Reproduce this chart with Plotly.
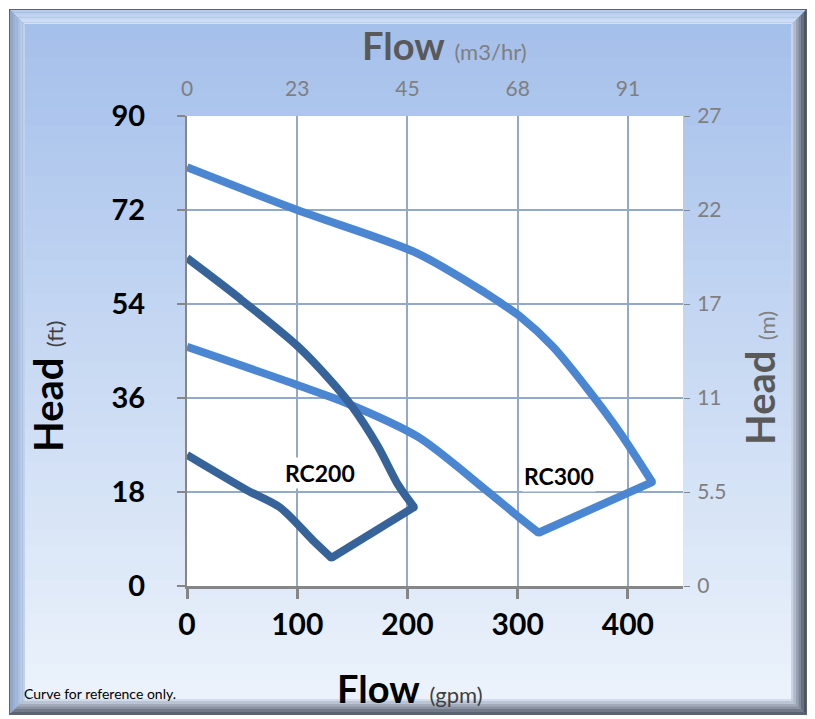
import plotly.graph_objects as go

# ---------------- data ----------------
gpm_ticks = [0, 100, 200, 300, 400]
m3hr_labels = ["0", "23", "45", "68", "91"]
ft_ticks = [0, 18, 36, 54, 72, 90]
m_labels = ["0", "5.5", "11", "17", "22", "27"]

# RC200: upper curve and lower curve
rc200_upper_gpm = [0, 47, 100, 130, 150, 173, 192, 206]
rc200_upper_ft = [62.8, 55.2, 46.0, 39.4, 34.3, 26.8, 19.2, 15.1]
rc200_lower_gpm = [131, 114, 84, 54, 0]
rc200_lower_ft = [5.4, 8.8, 15.1, 18.4, 25.1]

# RC300: upper curve and lower curve
rc300_upper_gpm = [0, 100, 208, 271, 286, 301, 332, 362, 393, 422]
rc300_upper_ft = [80.2, 72, 63.8, 56.1, 54, 51.8, 45.8, 38.1, 29.3, 19.9]
rc300_lower_gpm = [319, 301, 271, 210, 145, 100, 0]
rc300_lower_ft = [10.2, 13.2, 18.4, 28.5, 35, 38.5, 45.8]

# ---------------- geometry helpers (page pixel coords) ----------------
PAGE_W, PAGE_H = 815, 719
OFF = 8  # default body margin of the html page
W, H = PAGE_W - OFF, PAGE_H - OFF
PL, PR, PT, PB = 187, 683, 116, 586
FONT = "Lato"


def px(x):
    return (x - PL) / (PR - PL)


def py(y):
    return (PB - y) / (PB - PT)


def hexmix(c1, c2, t):
    a = [int(c1[i:i + 2], 16) for i in (1, 3, 5)]
    b = [int(c2[i:i + 2], 16) for i in (1, 3, 5)]
    return "#%02x%02x%02x" % tuple(round(a[k] + (b[k] - a[k]) * t) for k in range(3))


def quad(p):
    return "M " + " L ".join("%f %f" % (px(a), py(b)) for a, b in p) + " Z"


shapes = []
X0, Y0, X1, Y1 = 10, 10, 806, 714
BV = 15
shapes.append(dict(type="rect", xref="paper", yref="paper", layer="below",
                   x0=px(X0), x1=px(X1), y0=py(Y1), y1=py(Y0),
                   fillcolor="#8a96aa", line=dict(color="#5c6470", width=2)))
nb = 6
for i in range(nb):
    o = BV * i / nb
    inn = BV * (i + 1) / nb
    t = i / (nb - 1)
    shapes.append(dict(type="path", xref="paper", yref="paper", layer="below",
                       path=quad([(X0 + o, Y0 + o), (X1 - o, Y0 + o), (X1 - inn, Y0 + inn), (X0 + inn, Y0 + inn)]),
                       fillcolor=hexmix("#b4cbee", "#d3e2f8", t), line=dict(width=0)))
    shapes.append(dict(type="path", xref="paper", yref="paper", layer="below",
                       path=quad([(X0 + o, Y0 + o), (X0 + inn, Y0 + inn), (X0 + inn, Y1 - inn), (X0 + o, Y1 - o)]),
                       fillcolor=hexmix("#8fa6cc", "#bfd2ef", t), line=dict(width=0)))
    shapes.append(dict(type="path", xref="paper", yref="paper", layer="below",
                       path=quad([(X1 - o, Y0 + o), (X1 - o, Y1 - o), (X1 - inn, Y1 - inn), (X1 - inn, Y0 + inn)]),
                       fillcolor=hexmix("#4c5462", "#c9d4e6", t), line=dict(width=0)))
    shapes.append(dict(type="path", xref="paper", yref="paper", layer="below",
                       path=quad([(X0 + o, Y1 - o), (X0 + inn, Y1 - inn), (X1 - inn, Y1 - inn), (X1 - o, Y1 - o)]),
                       fillcolor=hexmix("#5a6272", "#d3dcea", t), line=dict(width=0)))

nband = 40
top_y, bot_y = Y0 + BV, Y1 - BV
for i in range(nband):
    ya = top_y + (bot_y - top_y) * i / nband
    yb = top_y + (bot_y - top_y) * (i + 1) / nband
    c = hexmix("#a5c0eb", "#ebf2fb", i / (nband - 1))
    shapes.append(dict(type="rect", xref="paper", yref="paper", layer="below",
                       x0=px(X0 + BV), x1=px(X1 - BV), y0=py(yb), y1=py(ya) + 0.002,
                       fillcolor=c, line=dict(width=0)))
shapes.append(dict(type="rect", xref="paper", yref="paper", layer="below",
                   x0=0, x1=1, y0=0, y1=1, fillcolor="white", line=dict(width=0)))

# ---------------- figure ----------------
fig = go.Figure()


def add_pump(up_x, up_y, lo_x, lo_y, color):
    common = dict(mode="lines", showlegend=False, hoverinfo="x+y", xaxis="x", yaxis="y")
    fig.add_trace(go.Scatter(x=up_x, y=up_y, line=dict(color=color, width=8, shape="spline",
                                                      smoothing=0.8), **common))
    fig.add_trace(go.Scatter(x=[up_x[-1], lo_x[0]], y=[up_y[-1], lo_y[0]],
                             line=dict(color=color, width=8), **common))
    fig.add_trace(go.Scatter(x=lo_x, y=lo_y, line=dict(color=color, width=8, shape="spline",
                                                      smoothing=0.8), **common))
    fig.add_trace(go.Scatter(x=[up_x[-1], lo_x[0]], y=[up_y[-1], lo_y[0]], mode="markers",
                             marker=dict(color=color, size=7.5, line=dict(width=0)),
                             showlegend=False, hoverinfo="skip", xaxis="x", yaxis="y"))


add_pump(rc300_upper_gpm, rc300_upper_ft, rc300_lower_gpm, rc300_lower_ft, "#4A86D2")
add_pump(rc200_upper_gpm, rc200_upper_ft, rc200_lower_gpm, rc200_lower_ft, "#36639A")

fig.add_trace(go.Scatter(x=[None], y=[None], xaxis="x2", yaxis="y2",
                         showlegend=False, hoverinfo="skip"))

fig.update_layout(
    width=W, height=H,
    margin=dict(l=PL - OFF, r=W - (PR - OFF), t=PT - OFF, b=H - (PB - OFF)),
    paper_bgcolor="white",
    plot_bgcolor="white",
    shapes=shapes,
    font=dict(family=FONT),
    xaxis=dict(range=[0, 450], tickvals=gpm_ticks, ticktext=[str(v) for v in gpm_ticks],
               showgrid=True, gridcolor="#93a9c9", gridwidth=2, zeroline=False,
               showline=True, linecolor="#868686", linewidth=3,
               ticks="outside", ticklen=10, tickwidth=3, tickcolor="#868686",
               tickfont=dict(family=FONT, size=30, color="black", weight="bold"),
               ticklabelstandoff=0),
    xaxis2=dict(range=[0, 450], overlaying="x", side="top", tickvals=gpm_ticks,
                ticktext=m3hr_labels, showgrid=False, zeroline=False, showline=False,
                ticks="", tickfont=dict(family=FONT, size=21, color="#7f7f7f"),
                ticklabelstandoff=15),
    yaxis=dict(range=[0, 90], tickvals=ft_ticks, ticktext=[str(v) for v in ft_ticks],
               showgrid=True, gridcolor="#93a9c9", gridwidth=2, zeroline=False,
               showline=True, linecolor="#868686", linewidth=2,
               ticks="outside", ticklen=8, tickwidth=2, tickcolor="#868686",
               tickfont=dict(family=FONT, size=29, color="black", weight="bold"),
               ticklabelstandoff=26),
    yaxis2=dict(range=[0, 90], overlaying="y", side="right", tickvals=ft_ticks,
                ticktext=m_labels, showgrid=False, zeroline=False, showline=False,
                ticks="outside", ticklen=6, tickwidth=1, tickcolor="#868686",
                tickfont=dict(family=FONT, size=21, color="#7f7f7f"),
                ticklabelstandoff=3),
)

ann = [
    dict(x=px(444), y=py(45),
         text="<b>Flow</b> <span style='font-size:22px;color:#7f7f7f'>(m3/hr)</span>",
         font=dict(family=FONT, size=38, color="#595959")),
    dict(x=px(410), y=py(688),
         text="<b>Flow</b> <span style='font-size:22px;color:#404040'>(gpm)</span>",
         font=dict(family=FONT, size=38, color="black")),
    dict(x=px(22), y=py(693), xanchor="left",
         text="Curve for reference only.", font=dict(family=FONT, size=14, color="black")),
    dict(x=px(48), y=py(387), textangle=-90,
         text="<b>Head</b> <span style='font-size:22px;color:#404040'>(ft)</span>",
         font=dict(family=FONT, size=40, color="black")),
    dict(x=px(760), y=py(378), textangle=-90,
         text="<b>Head</b> <span style='font-size:22px;color:#7f7f7f'>(m)</span>",
         font=dict(family=FONT, size=40, color="#595959")),
]
for a in ann:
    a.update(xref="paper", yref="paper", showarrow=False)
    a.setdefault("xanchor", "center")
    a.setdefault("yanchor", "middle")

ann.append(dict(x=120.5, y=21.6, xref="x", yref="y", showarrow=False, text="<b>RC200</b>",
                font=dict(family=FONT, size=23, color="black"), bgcolor="white"))
ann.append(dict(x=337.5, y=21.1, xref="x", yref="y", showarrow=False, text="<b>RC300</b>",
                font=dict(family=FONT, size=23, color="black"), bgcolor="white"))

fig.update_layout(annotations=ann)
fig.write_html("out.html")
